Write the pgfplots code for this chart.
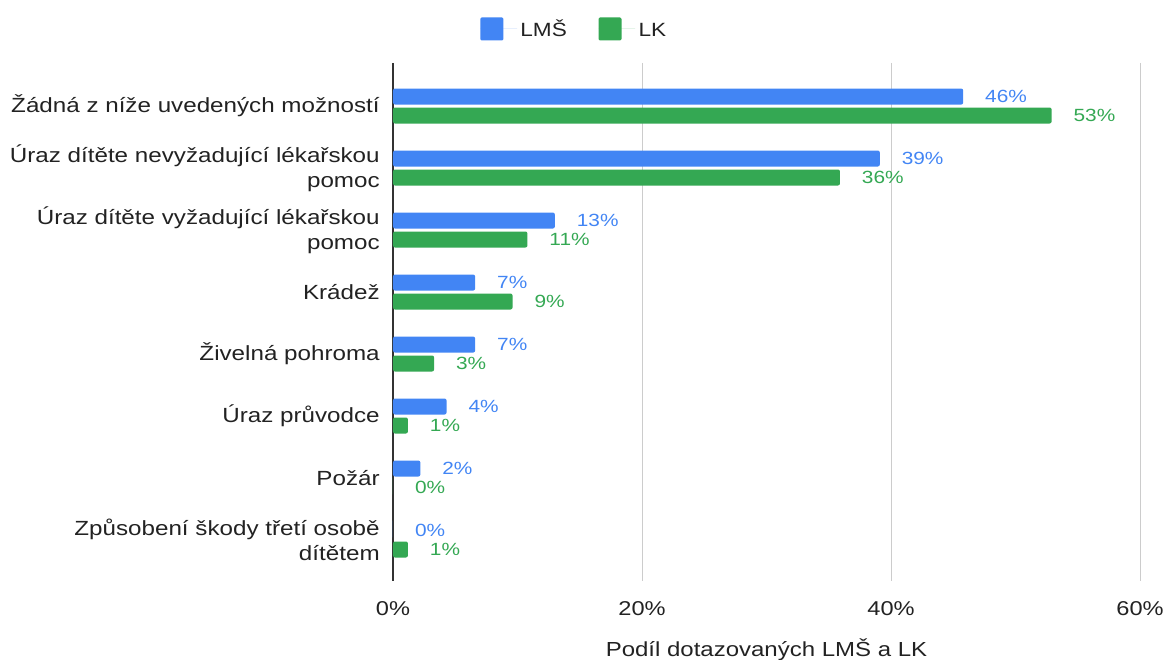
\documentclass[border=0pt]{standalone}
\usepackage{fontspec}
\setmainfont{Liberation Sans}[FakeStretch=1.18]
\usepackage{pgfplots}
\usepackage{pgfplotstable}
\pgfplotsset{compat=1.18}

\definecolor{lms}{HTML}{4285F4}
\definecolor{lk}{HTML}{34A853}
\definecolor{txt}{HTML}{222222}
\definecolor{gridc}{HTML}{CCCCCC}
\definecolor{axc}{HTML}{333333}

% y = category (0 top), bar lengths, labels as printed
\pgfplotstableread{
y lms lmslab lk lklab
0 45.8 46 52.9 53
1 39.1 39 35.9 36
2 13.0 13 10.8 11
3 6.6 7 9.6 9
4 6.6 7 3.3 3
5 4.3 4 1.2 1
6 2.2 2 0.0 0
7 0.0 0 1.2 1
}\data

\pgfplotsset{
  sq/.style={legend image code/.code={
    \fill[##1,draw=none,rounded corners=0.8pt] (0pt,-6.9pt) rectangle (13.8pt,6.9pt);
    \path (0pt,0pt) -- (22pt,0pt);}},
}

\begin{document}
\begin{tikzpicture}
\begin{axis}[
  name=ax,
  scale only axis,
  width=448.2pt, height=310.8pt,
  xbar,
  bar width=0.258,
  y dir=reverse,
  xmin=0, xmax=60,
  ymin=-0.694, ymax=7.661,
  axis y line=left,
  axis x line=bottom,
  x axis line style={draw=none},
  y axis line style={draw=axc, line width=0.9pt, -},
  major tick length=0pt,
  xtick={0,20,40,60},
  xticklabels={0\%,20\%,40\%,60\%},
  xmajorgrids,
  grid style={gridc, line width=0.6pt},
  ytick={0,...,7},
  yticklabels={
    {Žádná z níže uvedených možností},
    {Úraz dítěte nevyžadující lékařskou\\pomoc},
    {Úraz dítěte vyžadující lékařskou\\pomoc},
    {Krádež},
    {Živelná pohroma},
    {Úraz průvodce},
    {Požár},
    {Způsobení škody třetí osobě\\dítětem}},
  yticklabel style={font=\fontsize{12.3}{15}\selectfont, text=txt,
    align=right, anchor=east, inner sep=0pt, xshift=-7.8pt},
  xticklabel style={font=\fontsize{12}{14}\selectfont, text=txt,
    anchor=center, inner sep=0pt, yshift=-16.8pt},
  xlabel={Podíl dotazovaných LMŠ a LK},
  xlabel style={font=\fontsize{12.2}{14}\selectfont, text=txt,
    at={(axis description cs:0.5,0)}, anchor=center, inner sep=0pt, yshift=-41pt},
  legend columns=2,
  legend style={at={(0.2436,1)}, anchor=center, yshift=20.4pt, draw=none,
    font=\fontsize{11.5}{13}\selectfont, text=txt,
    nodes={text height=8.6pt, text depth=0pt},
    /tikz/every even column/.append style={column sep=17pt}},
  legend cell align=left,
  point meta=explicit symbolic,
  nodes near coords={\pgfplotspointmeta\%},
  nodes near coords style={font=\fontsize{10.6}{12}\selectfont,
    anchor=west, inner sep=0pt, xshift=13pt},
  clip=false,
]
\addplot[fill=lms, draw=none, bar shift=-0.153, rounded corners=1.2pt, sq,
  every node near coord/.append style={text=lms}]
  table[x=lms, y=y, meta=lmslab] {\data};
\addplot[fill=lk, draw=none, bar shift=0.153, rounded corners=1.2pt, sq,
  every node near coord/.append style={text=lk}]
  table[x=lk, y=y, meta=lklab] {\data};
\legend{LMŠ, LK}
\end{axis}
\pgfresetboundingbox
\path[use as bounding box] ([shift={(-235.8pt,-46.8pt)}]ax.south west)
  rectangle ([shift={(15pt,37.8pt)}]ax.north east);
\end{tikzpicture}
\end{document}
